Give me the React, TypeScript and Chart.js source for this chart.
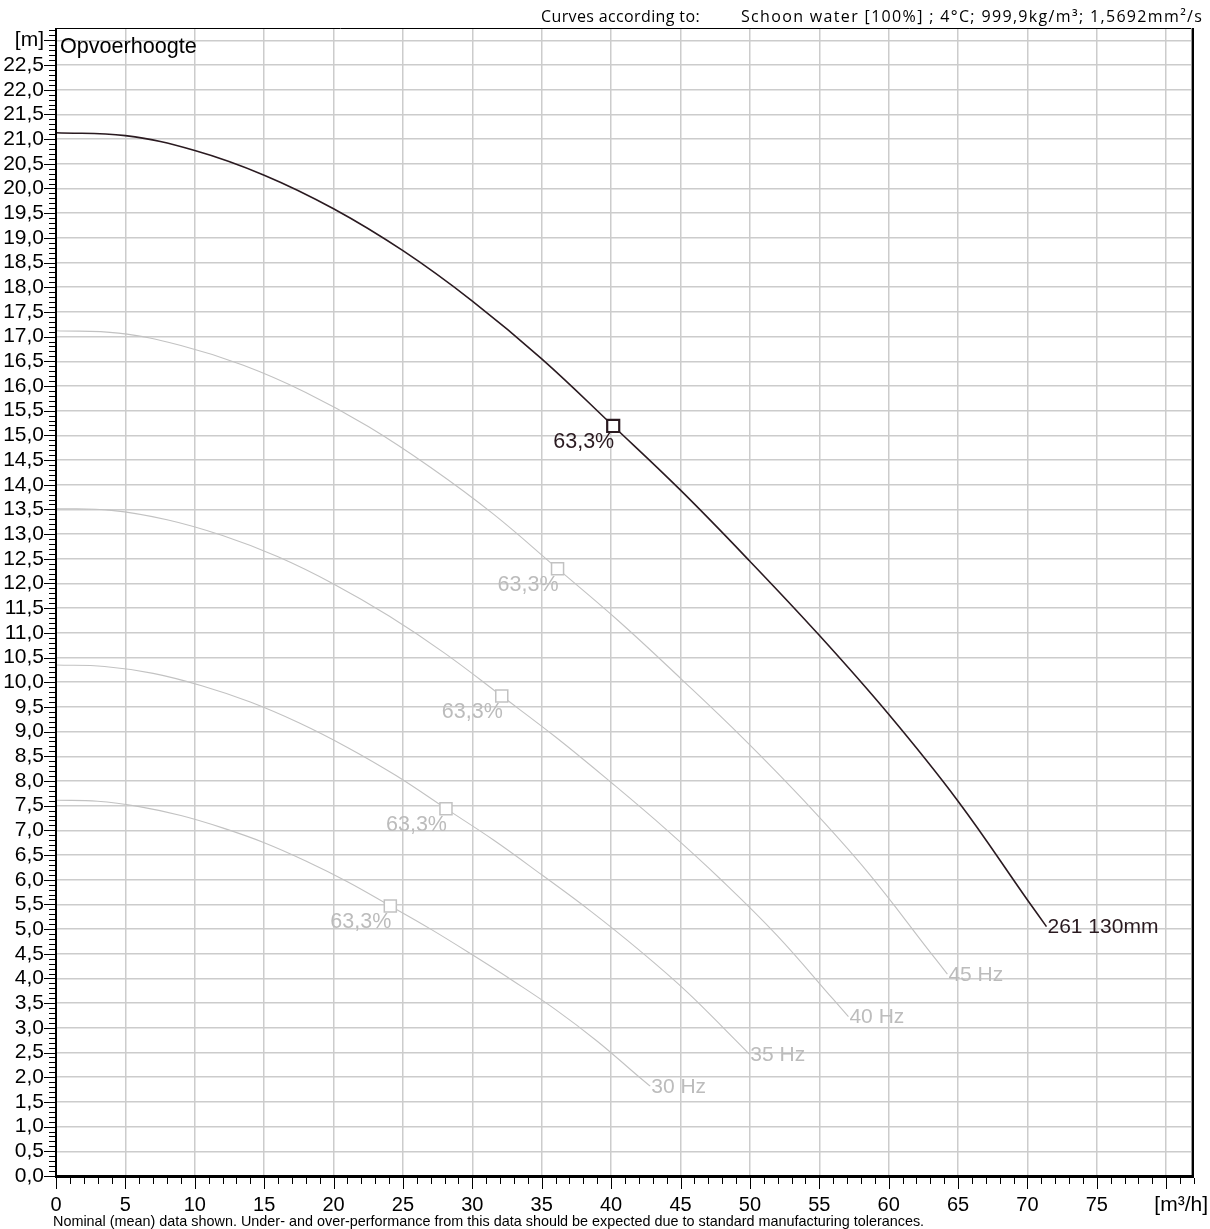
import { useEffect, useRef } from 'react';
import { Chart, registerables } from 'chart.js';

Chart.register(...registerables);

// ---- Data ----
const flow50 = [0, 5, 10, 15, 20, 25, 30, 35, 40.15, 45, 50, 55, 60, 65, 70, 71.37];
const head50 = [21.13, 21.07, 20.77, 20.27, 19.59, 18.74, 17.72, 16.55, 15.19, 13.89, 12.45, 10.95, 9.35, 7.59, 5.59, 5.05];

const flow45 = [0, 4.5, 9, 13.5, 18, 22.5, 27, 31.5, 36.14, 40.5, 45, 49.5, 54, 58.5, 63, 64.23];
const head45 = [17.12, 17.07, 16.82, 16.42, 15.87, 15.18, 14.35, 13.41, 12.3, 11.25, 10.08, 8.87, 7.57, 6.15, 4.53, 4.09];

const flow40 = [0, 4, 8, 12, 16, 20, 24, 28, 32.12, 36, 40, 44, 48, 52, 56, 57.1];
const head40 = [13.52, 13.48, 13.29, 12.97, 12.54, 11.99, 11.34, 10.59, 9.72, 8.89, 7.97, 7.01, 5.98, 4.86, 3.58, 3.23];

const flow35 = [0, 3.5, 7, 10.5, 14, 17.5, 21, 24.5, 28.1, 31.5, 35, 38.5, 42, 45.5, 49, 49.96];
const head35 = [10.35, 10.32, 10.18, 9.93, 9.6, 9.18, 8.68, 8.11, 7.44, 6.81, 6.1, 5.37, 4.58, 3.72, 2.74, 2.47];

const flow30 = [0, 3, 6, 9, 12, 15, 18, 21, 24.09, 27, 30, 33, 36, 39, 42, 42.82];
const head30 = [7.61, 7.59, 7.48, 7.3, 7.05, 6.75, 6.38, 5.96, 5.47, 5.0, 4.48, 3.94, 3.37, 2.73, 2.01, 1.82];

const bepFlow = [40.15, 36.14, 32.12, 28.1, 24.09];
const bepHead = [15.19, 12.3, 9.72, 7.44, 5.47];
const bepLabel = '63,3%';

const curveLabels = ['261 130mm', '45 Hz', '40 Hz', '35 Hz', '30 Hz'];

const yAxisTitle = '[m]';
const yAxisTitleValue = 23;
const xAxisTitle = '[m³/h]';
const xLabelLast = 75;
const curveTitle = 'Opvoerhoogte';
const headerLeft = 'Curves according to:';
const headerRight = 'Schoon water [100%] ; 4°C; 999,9kg/m³; 1,5692mm²/s';
const footnote = 'Nominal (mean) data shown. Under- and over-performance from this data should be expected due to standard manufacturing tolerances.';

const xMin = 0;
const xMax = 82;
const xGridMax = 80;
const yMin = 0;
const yMax = 23.25;

const DARK = '#2a1a20';
const GRAY = '#c2c2c2';
const GRAY_TEXT = '#bcbcbc';
const GRID = '#cccccc';
const SANS = '"Liberation Sans", Arial, sans-serif';

const flows = [flow50, flow45, flow40, flow35, flow30];
const heads = [head50, head45, head40, head35, head30];

export default function App() {
  const ref = useRef<HTMLCanvasElement | null>(null);

  useEffect(() => {
    const canvas = ref.current;
    if (!canvas) return;

    const toPts = (xs: number[], ys: number[]) => xs.map((v, i) => ({ x: v, y: ys[i] }));

    const markerSets = bepFlow.map((f, i) => ({
      label: 'bep' + i,
      data: [{ x: f, y: bepHead[i] }],
      showLine: false,
      pointStyle: 'rect' as const,
      pointRadius: 8.5,
      pointHoverRadius: 8.5,
      pointBackgroundColor: '#ffffff',
      pointBorderColor: i === 0 ? DARK : GRAY,
      pointBorderWidth: i === 0 ? 2.2 : 1.5,
    }));

    const curveSets = flows.map((xs, i) => ({
      label: curveLabels[i],
      data: toPts(xs, heads[i]),
      showLine: true,
      borderColor: i === 0 ? DARK : GRAY,
      borderWidth: i === 0 ? 1.6 : 1.1,
      pointRadius: 0,
      pointHoverRadius: 0,
      tension: 0.4,
      fill: false,
    }));

    const fitText = (ctx: CanvasRenderingContext2D, text: string, x: number, y: number, target: number) => {
      const c: any = ctx;
      c.letterSpacing = '0px';
      const w = ctx.measureText(text).width;
      const extra = (target - w) / Math.max(1, text.length);
      c.letterSpacing = `${extra.toFixed(2)}px`;
      ctx.fillText(text, x, y);
      c.letterSpacing = '0px';
    };

    const overlay = {
      id: 'overlay',
      afterDraw(chart: any) {
        const { ctx, chartArea: a, scales } = chart;
        const x = scales.x;
        const y = scales.y;
        ctx.save();

        // frame
        ctx.strokeStyle = '#000';
        ctx.lineWidth = 1;
        ctx.beginPath();
        ctx.moveTo(a.left, a.top + 0.5);
        ctx.lineTo(a.right, a.top + 0.5);
        ctx.stroke();
        ctx.lineWidth = 2;
        ctx.beginPath();
        ctx.moveTo(a.right - 1, a.top);
        ctx.lineTo(a.right - 1, a.bottom);
        ctx.stroke();
        ctx.strokeStyle = '#9a9a9a';
        ctx.lineWidth = 1;
        ctx.beginPath();
        ctx.moveTo(a.right - 2.5, a.top);
        ctx.lineTo(a.right - 2.5, a.bottom);
        ctx.stroke();
        ctx.strokeStyle = '#000';
        ctx.lineWidth = 2;
        ctx.beginPath();
        ctx.moveTo(a.left, a.top);
        ctx.lineTo(a.left, a.bottom + 2);
        ctx.stroke();
        ctx.lineWidth = 3;
        ctx.beginPath();
        ctx.moveTo(a.left - 1, a.bottom + 0.5);
        ctx.lineTo(a.right, a.bottom + 0.5);
        ctx.stroke();

        // y minor/major ticks
        ctx.lineWidth = 1;
        ctx.strokeStyle = '#000';
        const yStepsCount = Math.floor((yMax - yMin) * 10 + 1e-6);
        for (let i = 0; i <= yStepsCount; i++) {
          const py = Math.round(y.getPixelForValue(yMin + i / 10)) + 0.5;
          const len = i % 5 === 0 ? 12 : 7;
          ctx.beginPath();
          ctx.moveTo(a.left - len, py);
          ctx.lineTo(a.left, py);
          ctx.stroke();
        }
        // x minor/major ticks
        for (let i = xMin; i <= xMax; i++) {
          const px = Math.round(x.getPixelForValue(i)) + 0.5;
          const len = i % 5 === 0 ? 11 : 6;
          ctx.beginPath();
          ctx.moveTo(px, a.bottom + 2);
          ctx.lineTo(px, a.bottom + 2 + len);
          ctx.stroke();
        }

        // curve end labels and BEP labels
        ctx.textBaseline = 'middle';
        flows.forEach((xs, i) => {
          const last = xs.length - 1;
          const ex = x.getPixelForValue(xs[last]);
          const ey = y.getPixelForValue(heads[i][last]);
          ctx.fillStyle = i === 0 ? DARK : GRAY_TEXT;
          ctx.font = `21px ${SANS}`;
          ctx.textAlign = 'left';
          ctx.fillText(curveLabels[i], ex + 1, ey + 1);
          const bx = x.getPixelForValue(bepFlow[i]);
          const by = y.getPixelForValue(bepHead[i]);
          ctx.font = `21.5px ${SANS}`;
          ctx.textAlign = 'right';
          ctx.fillText(bepLabel, bx + 1, by + 16);
        });

        // titles
        ctx.fillStyle = '#000';
        ctx.textAlign = 'left';
        ctx.font = `21.6px ${SANS}`;
        ctx.fillText(curveTitle, a.left + 4, 47);
        ctx.font = `21px ${SANS}`;
        ctx.textAlign = 'right';
        ctx.fillText(xAxisTitle, 1208, 1205);
        ctx.textAlign = 'left';
        ctx.font = `14.4px ${SANS}`;
        ctx.fillText(footnote, 53, 1222);
        ctx.font = `16px "Open Sans", sans-serif`;
        fitText(ctx, headerLeft, 541, 17, 159);
        fitText(ctx, headerRight, 741, 17, 462);
        ctx.restore();
      },
    };

    const chart = new Chart(canvas, {
      type: 'scatter',
      data: { datasets: [...markerSets, ...curveSets] as any },
      options: {
        animation: false,
        responsive: false,
        devicePixelRatio: 1,
        events: [],
        layout: { padding: { top: 28, right: 16, left: 0, bottom: 0 } },
        plugins: {
          legend: { display: false },
          tooltip: { enabled: false },
          title: { display: false },
        },
        scales: {
          x: {
            type: 'linear',
            min: xMin,
            max: xMax,
            afterFit: (s: any) => { s.height = 53; },
            afterBuildTicks: (s: any) => {
              const t: any[] = [];
              for (let i = xMin; i <= xGridMax; i += 5) t.push({ value: i });
              s.ticks = t;
            },
            ticks: {
              autoSkip: false,
              maxRotation: 0,
              padding: 17,
              color: '#000',
              font: { family: SANS, size: 20 },
              callback: (v: any) => (Number(v) > xLabelLast ? '' : String(v)),
            },
            grid: { color: GRID, lineWidth: 1.5, drawTicks: false },
            border: { display: false },
          },
          y: {
            type: 'linear',
            min: yMin,
            max: yMax,
            afterFit: (s: any) => { s.width = 56; },
            afterBuildTicks: (s: any) => {
              const t: any[] = [];
              for (let i = 0; i <= yAxisTitleValue * 2; i++) t.push({ value: yMin + i / 2 });
              s.ticks = t;
            },
            ticks: {
              autoSkip: false,
              padding: 12,
              color: '#000',
              font: { family: SANS, size: 21 },
              callback: (v: any) => {
                const n = Number(v);
                if (Math.abs(n - yAxisTitleValue) < 1e-6) return yAxisTitle;
                return n.toFixed(1).replace('.', ',');
              },
            },
            grid: { color: GRID, lineWidth: 1.5, drawTicks: false },
            border: { display: false },
          },
        },
      },
      plugins: [overlay],
    });

    return () => chart.destroy();
  }, []);

  return (
    <div style={{ position: 'absolute', left: 0, top: 0, width: 1210, height: 1229, background: '#fff' }}>
      <canvas ref={ref} width={1210} height={1229} />
    </div>
  );
}
